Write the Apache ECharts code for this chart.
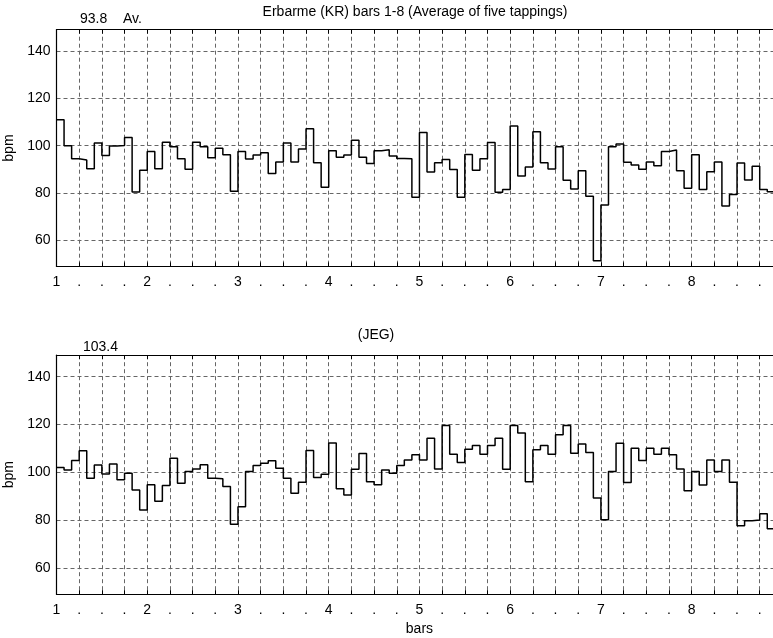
<!DOCTYPE html>
<html>
<head>
<meta charset="utf-8">
<script src="https://cdn.jsdelivr.net/npm/echarts@6/dist/echarts.min.js"></script>
<style>
  html, body { margin: 0; padding: 0; background: #fff; }
  #chart { width: 773px; height: 638px; }
</style>
</head>
<body>
<div id="chart"></div>
<script>
// 12 taps per bar (12/8), bars 1-8
const STEPS_PER_BAR = 12
const FIRST_BAR = 1
const LAST_BAR = 9

const krBpm = [
  111, 100, 94.5, 94, 90.3, 101.1, 95.8, 99.9, 100.1, 103.5, 80.4, 89.6,
  97.5, 90.3, 101.4, 99.6, 94.5, 90, 101.5, 99.6, 94.9, 98.9, 96.2, 80.7,
  97.5, 94.4, 96.1, 97, 88.3, 93.1, 101.1, 93.1, 98.6, 107.2, 92.8, 82.4,
  97.9, 95.1, 96.1, 102.3, 95.1, 92.5, 97.9, 98.3, 95.6, 94.6, 94.5, 78.2,
  105.6, 88.9, 92.8, 94.2, 89.9, 78.2, 96.3, 89.6, 94.5, 101.3, 80.3, 81.5,
  108.3, 87.2, 91, 105.9, 92.8, 90.1, 99.6, 85.4, 81.7, 89.4, 78.6, 51.4,
  74.9, 99.6, 100.7, 93, 91.8, 90, 93.1, 91.5, 97.5, 98.2, 89.4, 82,
  96.2, 81.5, 89, 93.1, 74.5, 79.4, 92.7, 85.5, 91.3, 81.5, 80.5, 80
]

const jegBpm = [
  102, 101, 104.9, 109, 97.5, 103.1, 99.3, 103.5, 96.9, 99.6, 92.6, 84.2,
  94.8, 87.9, 94.5, 105.9, 95.4, 100.3, 101.4, 103.2, 97.5, 97.3, 94.1, 78.3,
  85.6, 100.3, 102.9, 103.8, 104.8, 101.7, 97.5, 91.2, 95.8, 109.1, 97.8, 99.2,
  112.3, 93.1, 90.5, 101.3, 107.9, 96.1, 94.8, 101, 99.6, 102.8, 105.2, 107.3,
  105.2, 114.3, 101.4, 119.6, 107.6, 104.1, 109.7, 111.2, 107.6, 111.2, 114.3, 101.3,
  119.6, 116.4, 96.1, 109.4, 111.2, 107.6, 115.7, 119.6, 108, 111.8, 108.3, 89.3,
  80.2, 100.3, 112.2, 95.7, 110.1, 104.9, 110.1, 107.6, 110.1, 107.3, 101.4, 92.3,
  100.3, 94.7, 105.2, 100.3, 105.2, 95.8, 77.6, 79.7, 80, 82.7, 76.4, 76
]

const krAverage = '93.8'
const jegAverage = '103.4'
const topTitle = 'Erbarme (KR) bars 1-8 (Average of five tappings)'
const bottomTitle = '(JEG)'

// stairs: each value holds until the next tap, last one until bar 9
const toStairs = (values) => {
  const pts = values.map((v, i) => [FIRST_BAR + i / STEPS_PER_BAR, v])
  pts.push([LAST_BAR, values[values.length - 1]])
  return pts
}

const FONT = 'Liberation Sans, Arial, sans-serif'
const INK = '#000'
const gridDash = { color: '#666', type: [4, 3], width: 1 }

const makeXAxes = (gridIndex, showName) => [
  {
    type: 'value', gridIndex, position: 'bottom',
    min: FIRST_BAR, max: LAST_BAR, interval: 0.25,
    name: showName ? 'bars' : '', nameLocation: 'middle', nameGap: 28,
    nameTextStyle: { fontFamily: FONT, fontSize: 14, color: INK },
    axisLine: { lineStyle: { color: INK, width: 1.2 } },
    axisTick: { inside: true, length: 4, lineStyle: { color: INK } },
    axisLabel: {
      margin: 9, fontFamily: FONT, fontSize: 14, color: INK,
      showMaxLabel: false,
      formatter: v => Number.isInteger(v) ? String(v) : '.'
    },
    splitLine: { show: true, lineStyle: gridDash }
  },
  {
    type: 'value', gridIndex, position: 'top',
    min: FIRST_BAR, max: LAST_BAR, interval: 0.25,
    axisLine: { lineStyle: { color: INK, width: 1.2 } },
    axisTick: { inside: true, length: 4, lineStyle: { color: INK } },
    axisLabel: { show: false },
    splitLine: { show: false }
  }
]

const makeYAxis = (gridIndex) => ({
  type: 'value', gridIndex,
  min: 49, max: 149, splitNumber: 5,
  name: 'bpm', nameLocation: 'middle', nameGap: 37,
  nameTextStyle: { fontFamily: FONT, fontSize: 14, color: INK },
  axisLine: { show: true, lineStyle: { color: INK, width: 1.2 } },
  axisTick: { show: false },
  axisLabel: {
    margin: 6, fontFamily: FONT, fontSize: 14, color: INK,
    showMinLabel: false, showMaxLabel: false
  },
  splitLine: { show: true, lineStyle: gridDash }
})

const stairsSeries = (values, axisIndex) => ({
  type: 'line', step: 'end', showSymbol: false,
  xAxisIndex: axisIndex * 2, yAxisIndex: axisIndex,
  data: toStairs(values),
  lineStyle: { color: INK, width: 1.5 },
  animation: false
})

const textEl = (text, x, y, align) => ({
  type: 'text', x, y,
  style: {
    text, fontFamily: FONT, fontSize: 14, fill: INK,
    align: align || 'left', verticalAlign: 'middle'
  }
})

const chart = echarts.init(document.getElementById('chart'), null, { renderer: 'canvas' })

chart.setOption({
  backgroundColor: '#fff',
  animation: false,
  grid: [
    { left: 56.5, right: -9.4, top: 29.7, height: 236.7, outerBoundsMode: 'none', containLabel: false },
    { left: 56.5, right: -9.4, top: 355.2, height: 239, outerBoundsMode: 'none', containLabel: false }
  ],
  xAxis: [...makeXAxes(0, false), ...makeXAxes(1, true)],
  yAxis: [makeYAxis(0), makeYAxis(1)],
  series: [stairsSeries(krBpm, 0), stairsSeries(jegBpm, 1)],
  graphic: [
    textEl(topTitle, 415, 12, 'center'),
    textEl(krAverage, 80, 19),
    textEl('Av.', 123, 19),
    textEl(bottomTitle, 376, 335, 'center'),
    textEl(jegAverage, 83, 347)
  ]
})
</script>
</body>
</html>
